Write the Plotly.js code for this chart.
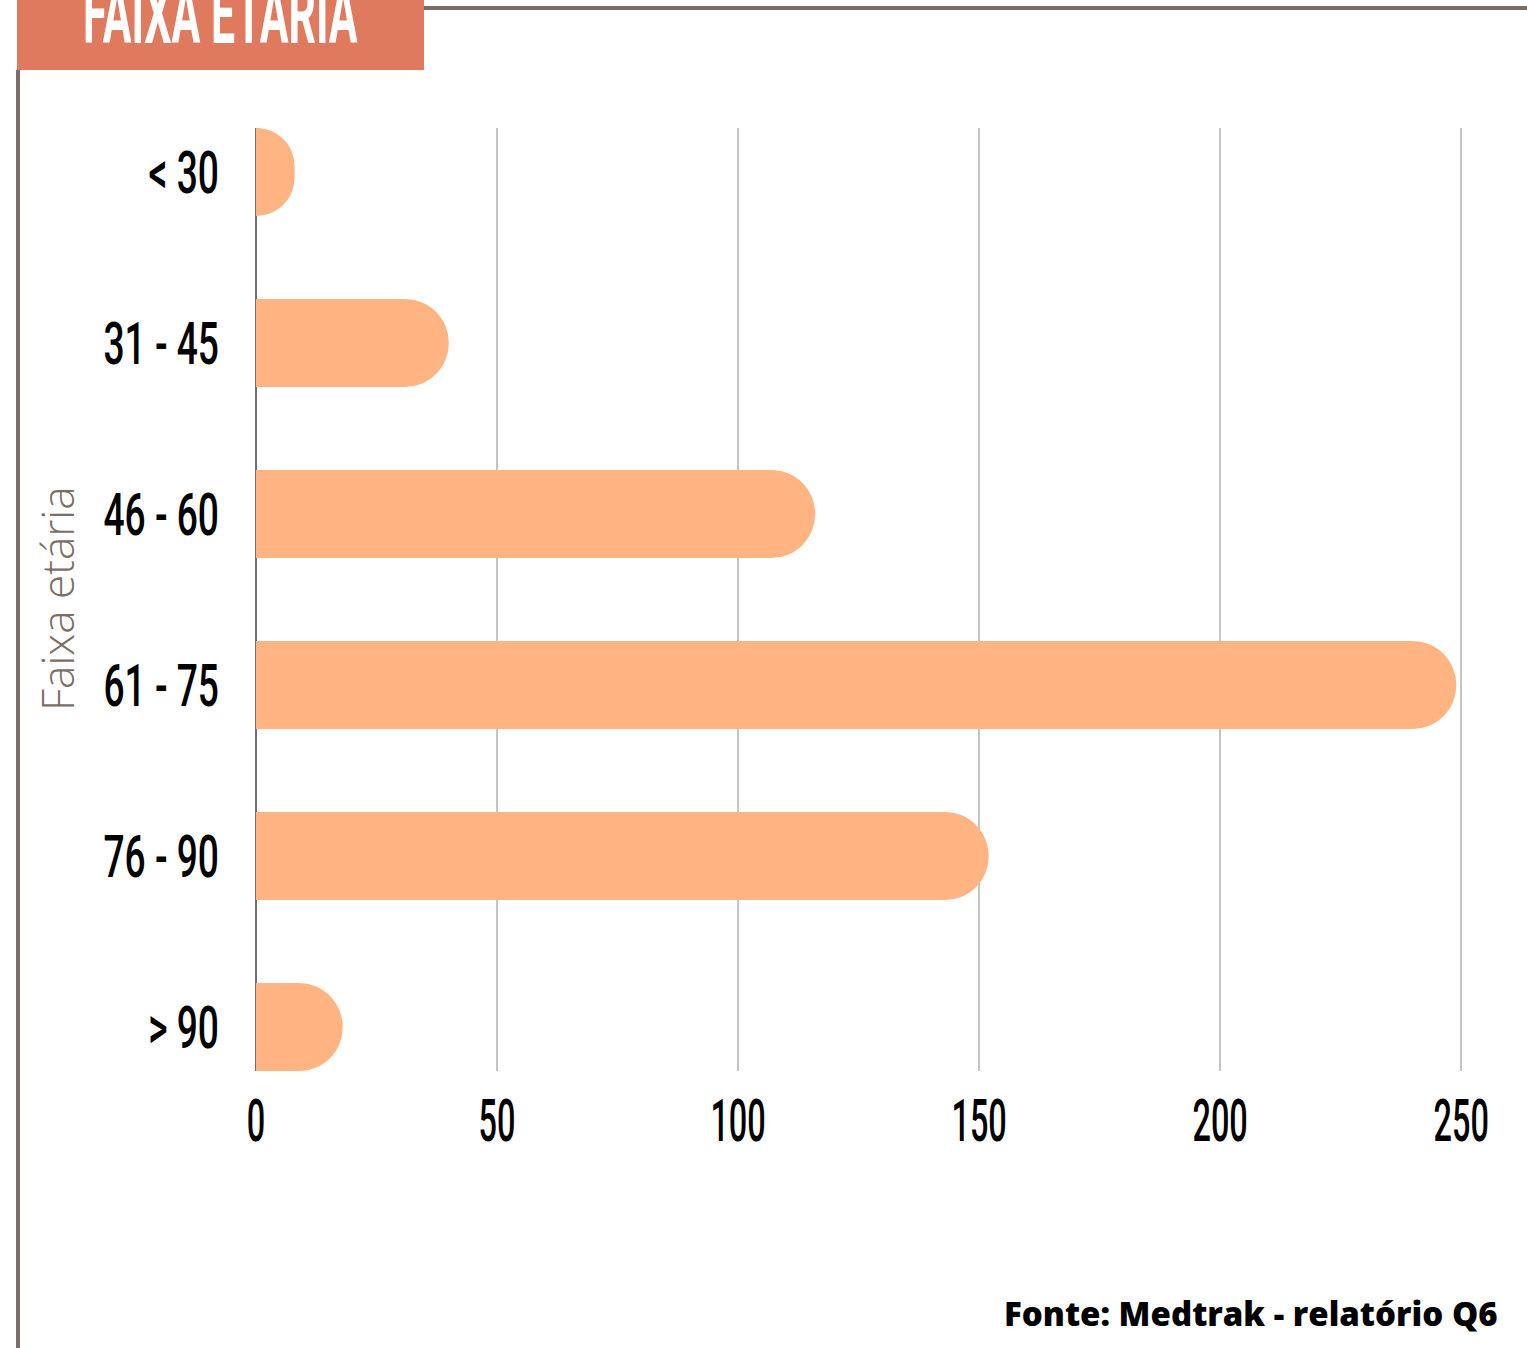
<!DOCTYPE html>
<html>
<head>
<meta charset="utf-8">
<script src="https://cdn.plot.ly/plotly-3.0.1.min.js"></script>
<style>
html,body{margin:0;padding:0;background:#fff;}
#chart{width:1527px;height:1348px;}
</style>
</head>
<body>
<div id="chart"></div>
<script>
// Data
const categories = ["< 30", "31 - 45", "46 - 60", "61 - 75", "76 - 90", "> 90"];
const counts = [8, 40, 116, 249, 152, 18];
const xTickValues = [0, 50, 100, 150, 200, 250];
const chartTitle = "FAIXA ETÁRIA";
const yAxisTitle = "Faixa etária";
const sourceNote = "Fonte: Medtrak - relatório Q6";

const condensed = "Roboto, 'DejaVu Sans Condensed', sans-serif";
const brown = "#7b6d68";

// pixel layout helpers
const W = 1527, H = 1348;
const L = 256, T = 128, B = 277;
const plotW = 1210, plotH = H - T - B;
const R = W - L - plotW;
const px = x => (x - L) / plotW;
const py = y => (H - B - y) / plotH;

const trace = {
  type: "bar",
  orientation: "h",
  y: categories,
  x: counts,
  marker: {color: "#FFB482", cornerradius: "50%", line: {width: 0}},
  hoverinfo: "skip"
};

const layout = {
  width: W, height: H,
  margin: {l: L, r: R, t: T, b: B, pad: 0},
  paper_bgcolor: "#ffffff",
  plot_bgcolor: "#ffffff",
  showlegend: false,
  bargap: 0.485,
  xaxis: {
    range: [0, 251],
    tickvals: xTickValues,
    ticktext: xTickValues.map(String),
    showgrid: true, gridcolor: "#c4c4c4", gridwidth: 2,
    zeroline: true, zerolinecolor: "#6e6e6e", zerolinewidth: 2,
    showline: false, ticks: "",
    ticklabelstandoff: 10,
    tickfont: {family: condensed, size: 59, weight: 500, color: "#000"}
  },
  yaxis: {
    type: "category",
    categoryorder: "array",
    categoryarray: categories,
    range: [5.257, -0.257],
    showgrid: false, zeroline: false, showline: false, ticks: "",
    ticklabelstandoff: 36,
    tickfont: {family: condensed, size: 59, weight: 500, color: "#000"}
  },
  shapes: [
    {type: "rect", xref: "paper", yref: "paper", x0: px(17), x1: px(424), y0: py(70), y1: py(-5),
     fillcolor: "#E07A5F", line: {width: 0}, layer: "below"},
    {type: "line", xref: "paper", yref: "paper", x0: px(18), x1: px(18), y0: py(70), y1: py(H + 2),
     line: {color: brown, width: 4}},
    {type: "line", xref: "paper", yref: "paper", x0: px(424), x1: px(W + 2), y0: py(8), y1: py(8),
     line: {color: brown, width: 4}}
  ],
  annotations: [
    {text: chartTitle, xref: "paper", yref: "paper", x: px(220), y: py(66),
     xanchor: "center", yanchor: "bottom", showarrow: false,
     font: {family: condensed, size: 84, weight: 700, color: "#ffffff"}},
    {text: yAxisTitle, xref: "paper", yref: "paper", x: px(57), y: py(599),
     xanchor: "center", yanchor: "middle", textangle: -90, showarrow: false,
     font: {family: "'Open Sans', sans-serif", size: 44, weight: 300, color: "#7b6d68"}},
    {text: sourceNote, xref: "paper", yref: "paper", x: px(1500), y: py(1313),
     xanchor: "right", yanchor: "middle", showarrow: false,
     font: {family: "'Open Sans', sans-serif", size: 33, weight: 800, color: "#000"}}
  ]
};

function squeeze(selector, sx) {
  document.querySelectorAll(selector).forEach(t => {
    const x = parseFloat(t.getAttribute("x")) || 0;
    const tr = t.getAttribute("transform") || "";
    t.setAttribute("transform", tr + " translate(" + x + ",0) scale(" + sx + ",1) translate(" + (-x) + ",0)");
  });
}

Plotly.newPlot("chart", [trace], layout, {displayModeBar: false, staticPlot: true}).then(() => {
  squeeze("#chart .xtick text", 0.55);
  squeeze("#chart .ytick text", 0.63);
  squeeze('#chart .annotation[data-index="0"] text', 0.51);
});
</script>
</body>
</html>
